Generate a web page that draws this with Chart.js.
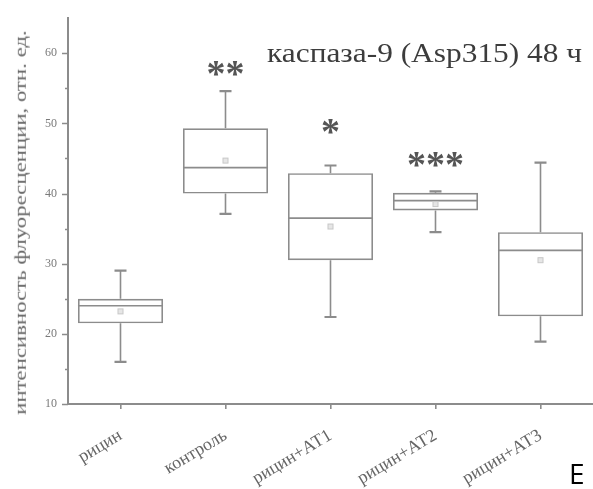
<!DOCTYPE html>
<html>
<head>
<meta charset="utf-8">
<script src="https://cdn.jsdelivr.net/npm/chart.js@4.4.1/dist/chart.umd.min.js"></script>
<style>
  html,body{margin:0;padding:0;background:#fff;}
  #wrap{position:relative;width:593px;height:489px;overflow:hidden;}
  canvas{position:absolute;left:0;top:0;}
  .txt{position:absolute;white-space:nowrap;line-height:1;transform-origin:50% 50%;}
</style>
</head>
<body>
<div id="wrap">
  <canvas id="c" width="593" height="489"></canvas>
  <div id="title" class="txt" style="font-family:'Liberation Serif',serif;font-size:27px;color:#3c3c3c;">каспаза-9 (Asp315) 48 ч</div>
  <div id="ytitle" class="txt" style="font-family:'Liberation Serif',serif;font-size:17px;color:#666;">интенсивность флуоресценции, отн. ед.</div>
  <div id="panel" class="txt" style="font-family:'Open Sans',sans-serif;font-size:28px;color:#000;left:569px;top:459px;">E</div>
</div>
<script>
// ---- data ----
const categories   = ['рицин', 'контроль', 'рицин+АТ1', 'рицин+АТ2', 'рицин+АТ3'];
const whiskerLow   = [16.0, 37.1, 22.4, 34.5, 18.9];
const q1           = [21.5, 40.0, 30.5, 37.6, 22.5];
const median       = [24.0, 43.7, 36.5, 39.0, 31.9];
const q3           = [25.0, 49.3, 42.9, 40.1, 34.5];
const whiskerHigh  = [29.0, 54.6, 44.0, 40.3, 44.4];
const means        = [23.2, 44.7, 35.3, 38.5, 30.5];
const significance = ['', '**', '*', '***', ''];
const signifAt     = [null, 57.9, 49.6, 44.9, null];
const yMin = 10, yMax = 65, yMajorStep = 10, yMinorStep = 5;

const AX = '#8c8c8c';

const boxPlugin = {
  id: 'boxExtras',
  afterDatasetsDraw(chart) {
    const ctx = chart.ctx;
    const ys = chart.scales.y;
    const meta = chart.getDatasetMeta(0);
    ctx.save();
    meta.data.forEach((bar, i) => {
      const x = bar.x;
      const half = bar.width / 2;
      ctx.strokeStyle = AX;
      ctx.lineWidth = 1.6;
      ctx.beginPath();
      ctx.moveTo(x, ys.getPixelForValue(q3[i]));
      ctx.lineTo(x, ys.getPixelForValue(whiskerHigh[i]));
      ctx.moveTo(x, ys.getPixelForValue(q1[i]));
      ctx.lineTo(x, ys.getPixelForValue(whiskerLow[i]));
      ctx.stroke();
      ctx.lineWidth = 2.2;
      ctx.beginPath();
      [whiskerHigh[i], whiskerLow[i]].forEach(v => {
        const py = ys.getPixelForValue(v);
        ctx.moveTo(x - 6, py);
        ctx.lineTo(x + 6, py);
      });
      ctx.stroke();
      ctx.lineWidth = 1.6;
      ctx.beginPath();
      const pm = ys.getPixelForValue(median[i]);
      ctx.moveTo(x - half, pm);
      ctx.lineTo(x + half, pm);
      ctx.stroke();
      const pmean = ys.getPixelForValue(means[i]);
      ctx.fillStyle = '#e6e6e6';
      ctx.strokeStyle = '#c8c8c8';
      ctx.lineWidth = 1;
      ctx.fillRect(x - 2.5, pmean - 2.5, 5, 5);
      ctx.strokeRect(x - 2.5, pmean - 2.5, 5, 5);
      if (significance[i]) {
        ctx.font = "bold 38px 'Liberation Serif'";
        ctx.fillStyle = '#555';
        ctx.textAlign = 'center';
        ctx.textBaseline = 'alphabetic';
        const m = ctx.measureText(significance[i]);
        const cy = ys.getPixelForValue(signifAt[i]);
        const off = (m.actualBoundingBoxAscent - m.actualBoundingBoxDescent) / 2;
        ctx.fillText(significance[i], x, cy + off);
      }
    });
    const left = chart.chartArea.left;
    ctx.strokeStyle = AX;
    ctx.lineWidth = 1.6;
    ctx.beginPath();
    for (let v = yMin; v < yMax; v += yMinorStep) {
      const py = Math.round(ys.getPixelForValue(v)) + 0.5;
      const len = (v % yMajorStep === 0) ? 6 : 3;
      ctx.moveTo(left - len, py);
      ctx.lineTo(left, py);
    }
    ctx.stroke();
    ctx.restore();
  }
};

new Chart(document.getElementById('c'), {
  type: 'bar',
  data: {
    labels: categories,
    datasets: [{
      data: categories.map((c, i) => [q1[i], q3[i]]),
      backgroundColor: 'rgba(0,0,0,0)',
      borderColor: AX,
      borderWidth: 1.6,
      borderSkipped: false,
      barPercentage: 0.81,
      categoryPercentage: 1
    }]
  },
  options: {
    responsive: false,
    animation: false,
    events: [],
    layout: { padding: { top: 17, right: 0, left: 0, bottom: 0 } },
    plugins: { legend: { display: false }, tooltip: { enabled: false } },
    scales: {
      x: {
        offset: true,
        grid: { display: true, offset: false, drawOnChartArea: false, drawTicks: true, tickLength: 5, color: AX, lineWidth: 1.6 },
        border: { display: true, color: AX, width: 2 },
        ticks: { minRotation: 31, maxRotation: 31, autoSkip: false, padding: 16,
                 font: { family: 'Liberation Serif', size: 18 }, color: '#666' },
        afterFit(s) { s.height = 85; }
      },
      y: {
        min: yMin, max: yMax,
        grid: { display: true, drawOnChartArea: false, drawTicks: false },
        border: { display: true, color: AX, width: 2 },
        ticks: { stepSize: yMinorStep, padding: 11,
                 callback: v => (v % yMajorStep === 0 && v < yMax) ? v : '',
                 font: { family: 'Liberation Serif', size: 12 }, color: '#7a7a7a' },
        afterFit(s) { s.width = 68; }
      }
    }
  },
  plugins: [boxPlugin]
});

(function () {
  const t = document.getElementById('title');
  const w = t.offsetWidth;
  const k = 315 / w;
  t.style.left = (424.5 - w / 2) + 'px';
  t.style.top = '40px';
  t.style.transform = 'scaleX(' + k + ')';
  const yt = document.getElementById('ytitle');
  const yw = yt.offsetWidth, yh = yt.offsetHeight;
  const ky = 385 / yw;
  yt.style.left = (20 - yw / 2) + 'px';
  yt.style.top = (222 - yh / 2) + 'px';
  yt.style.transform = 'rotate(-90deg) scaleX(' + ky + ')';
})();
</script>
</body>
</html>
